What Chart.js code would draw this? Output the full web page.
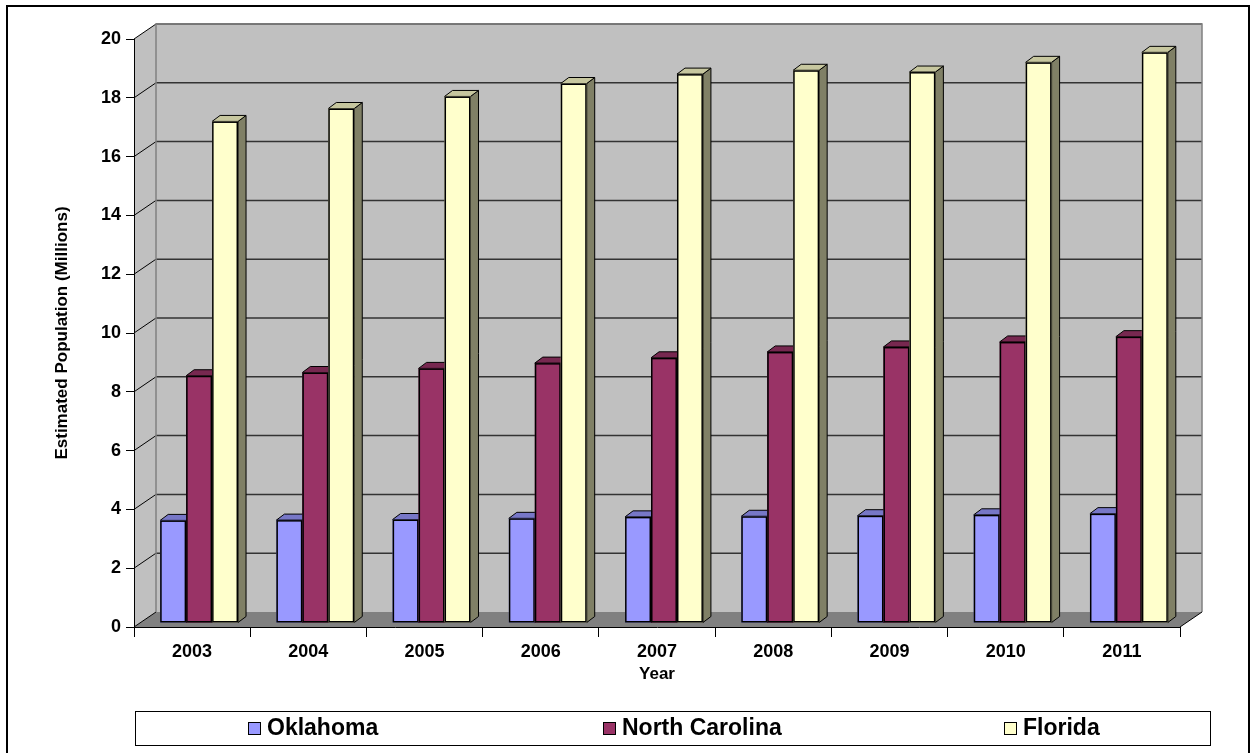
<!DOCTYPE html>
<html>
<head>
<meta charset="utf-8">
<script src="https://cdn.jsdelivr.net/npm/chart.js@4"></script>
<style>
  body { margin: 0; background: #fff; }
  #wrap { width: 1255px; height: 753px; position: relative; }
</style>
</head>
<body>
<div id="wrap"><canvas id="popChart"></canvas></div>
<script>
// Data
const years = ['2003', '2004', '2005', '2006', '2007', '2008', '2009', '2010', '2011'];
const oklahoma = [3.49, 3.50, 3.52, 3.56, 3.61, 3.63, 3.65, 3.68, 3.72];
const northCarolina = [8.41, 8.52, 8.66, 8.84, 9.02, 9.22, 9.39, 9.56, 9.74];
const florida = [17.06, 17.50, 17.91, 18.35, 18.67, 18.80, 18.74, 19.07, 19.41];
const seriesNames = ['Oklahoma', 'North Carolina', 'Florida'];
const seriesColors = ['#9999ff', '#993366', '#ffffcc'];
const yMin = 0, yMax = 20, yStep = 2;

Chart.defaults.font.family = '"Liberation Sans", Arial, sans-serif';
Chart.defaults.font.weight = 'bold';
Chart.defaults.color = '#000';

// wall depth and bar depth offsets
const WALL_DX = 22, WALL_DY = -15;
const BAR_DX = 8, BAR_DY = -6;
const BAR_SHIFT_X = 7, BAR_SHIFT_Y = -4;

function shade(hex, f) {
    const n = parseInt(hex.slice(1), 16);
    const r = Math.round(((n >> 16) & 255) * f);
    const g = Math.round(((n >> 8) & 255) * f);
    const b = Math.round((n & 255) * f);
    return `rgb(${r},${g},${b})`;
}

const walls3d = {
    id: 'walls3d',
    beforeDraw(chart) {
        const { ctx, chartArea: a, scales: { y } } = chart;
        ctx.save();
        // frame
        ctx.fillStyle = '#fff';
        ctx.fillRect(0, 0, chart.width, chart.height);
        ctx.strokeStyle = '#000';
        ctx.lineWidth = 2;
        ctx.strokeRect(7, 6, 1242, 760);

        const y0 = y.getPixelForValue(yMin), y1 = y.getPixelForValue(yMax);
        // back wall
        ctx.fillStyle = '#c0c0c0';
        ctx.fillRect(a.left + WALL_DX, y1 + WALL_DY, a.right - a.left, y0 - y1);
        // left wall
        ctx.beginPath();
        ctx.moveTo(a.left, y0);
        ctx.lineTo(a.left, y1);
        ctx.lineTo(a.left + WALL_DX, y1 + WALL_DY);
        ctx.lineTo(a.left + WALL_DX, y0 + WALL_DY);
        ctx.closePath();
        ctx.fill();
        // floor
        ctx.fillStyle = '#808080';
        ctx.beginPath();
        ctx.moveTo(a.left, y0);
        ctx.lineTo(a.right, y0);
        ctx.lineTo(a.right + WALL_DX, y0 + WALL_DY);
        ctx.lineTo(a.left + WALL_DX, y0 + WALL_DY);
        ctx.closePath();
        ctx.fill();

        // grid lines on back wall + left wall diagonals
        for (let v = yMin + yStep; v <= yMax; v += yStep) {
            const py = y.getPixelForValue(v);
            ctx.strokeStyle = '#333';
            ctx.lineWidth = 1.5;
            ctx.beginPath();
            ctx.moveTo(a.left + WALL_DX, py + WALL_DY);
            ctx.lineTo(a.right + WALL_DX, py + WALL_DY);
            ctx.stroke();
        }
        for (let v = yMin; v <= yMax; v += yStep) {
            const py = y.getPixelForValue(v);
            ctx.strokeStyle = '#000';
            ctx.lineWidth = 1;
            ctx.beginPath();
            ctx.moveTo(a.left, py);
            ctx.lineTo(a.left + WALL_DX, py + WALL_DY);
            ctx.stroke();
        }
        // wall edges
        ctx.strokeStyle = '#808080';
        ctx.lineWidth = 1.5;
        ctx.beginPath();
        ctx.moveTo(a.left + WALL_DX, y0 + WALL_DY);
        ctx.lineTo(a.left + WALL_DX, y1 + WALL_DY);
        ctx.lineTo(a.right + WALL_DX, y1 + WALL_DY);
        ctx.lineTo(a.right + WALL_DX, y0 + WALL_DY);
        ctx.stroke();
        ctx.strokeStyle = '#000';
        ctx.lineWidth = 1;
        ctx.beginPath();
        ctx.moveTo(a.right, y0);
        ctx.lineTo(a.right + WALL_DX, y0 + WALL_DY);
        ctx.stroke();
        ctx.restore();
    },
    beforeDatasetsDraw(chart) {
        chart.ctx.save();
        chart.ctx.translate(BAR_SHIFT_X, BAR_SHIFT_Y);
    },
    afterDatasetsDraw(chart) {
        // Chart.js paints datasets last-to-first, so repaint each column
        // left to right with its top and side faces for a proper 3D look
        const { ctx } = chart;
        const metas = chart.data.datasets.map((ds, i) => chart.getDatasetMeta(i));
        ctx.strokeStyle = '#000';
        years.forEach((yr, j) => {
            metas.forEach((meta, i) => {
                const el = meta.data[j];
                const color = seriesColors[i];
                const { x, y, base, width } = el.getProps(['x', 'y', 'base', 'width'], true);
                const x1 = x - width / 2, x2 = x + width / 2;
                ctx.lineWidth = 1;
                ctx.fillStyle = shade(color, 0.5);
                ctx.beginPath();
                ctx.moveTo(x2, y);
                ctx.lineTo(x2 + BAR_DX, y + BAR_DY);
                ctx.lineTo(x2 + BAR_DX, base + BAR_DY);
                ctx.lineTo(x2, base);
                ctx.closePath();
                ctx.fill();
                ctx.stroke();
                ctx.fillStyle = shade(color, 0.78);
                ctx.beginPath();
                ctx.moveTo(x1, y);
                ctx.lineTo(x1 + BAR_DX, y + BAR_DY);
                ctx.lineTo(x2 + BAR_DX, y + BAR_DY);
                ctx.lineTo(x2, y);
                ctx.closePath();
                ctx.fill();
                ctx.stroke();
                // front face
                ctx.fillStyle = color;
                ctx.fillRect(x1, y, width, base - y);
                ctx.lineWidth = 1.5;
                ctx.strokeRect(x1 + 0.75, y + 0.75, width - 1.5, base - y - 1.5);
            });
        });
        ctx.restore();
    },
    afterDraw(chart) {
        // legend box
        const { ctx } = chart;
        ctx.save();
        ctx.strokeStyle = '#000';
        ctx.lineWidth = 1;
        ctx.strokeRect(135.5, 711.5, 1075, 34);
        const itemX = [248, 603, 1004];
        ctx.font = 'bold 23px "Liberation Sans", Arial, sans-serif';
        ctx.textBaseline = 'middle';
        chart.data.datasets.forEach((ds, i) => {
            ctx.fillStyle = ds.backgroundColor;
            ctx.fillRect(itemX[i], 722, 12, 12);
            ctx.strokeRect(itemX[i] + 0.5, 722.5, 12, 12);
            ctx.fillStyle = '#000';
            ctx.fillText(ds.label, itemX[i] + 19, 729);
        });
        ctx.restore();
    }
};

const ctx = document.getElementById('popChart').getContext('2d');
new Chart(ctx, {
    type: 'bar',
    data: {
        labels: years,
        datasets: [oklahoma, northCarolina, florida].map((vals, i) => ({
            label: seriesNames[i],
            data: vals,
            backgroundColor: seriesColors[i],
            borderColor: '#000',
            borderWidth: 1.5,
            borderSkipped: false,
            clip: false,
            categoryPercentage: 0.67,
            barPercentage: 1.0
        }))
    },
    options: {
        responsive: true,
        maintainAspectRatio: false,
        animation: false,
        layout: { padding: { left: 0, top: 39, right: 75, bottom: 63 } },
        plugins: {
            legend: { display: false },
            tooltip: { enabled: false }
        },
        scales: {
            x: {
                afterFit(scale) { scale.height = 63; },
                grid: { drawOnChartArea: false, tickLength: 10, color: '#000', offset: true },
                border: { color: '#000', width: 1 },
                ticks: { font: { size: 18, weight: 'bold' }, padding: 4, maxRotation: 0 },
                title: { display: true, text: 'Year', font: { size: 17, weight: 'bold' }, padding: { top: 0, bottom: 5 } }
            },
            y: {
                min: yMin,
                max: yMax,
                afterFit(scale) { scale.width = 134; },
                grid: { drawOnChartArea: false, tickLength: 8, color: '#000' },
                border: { color: '#000', width: 1 },
                ticks: { stepSize: yStep, font: { size: 18, weight: 'bold' }, padding: 5 },
                title: { display: true, text: 'Estimated Population (Millions)', font: { size: 17, weight: 'bold' }, padding: { top: 52, bottom: 0 } }
            }
        }
    },
    plugins: [walls3d]
});
</script>
</body>
</html>
